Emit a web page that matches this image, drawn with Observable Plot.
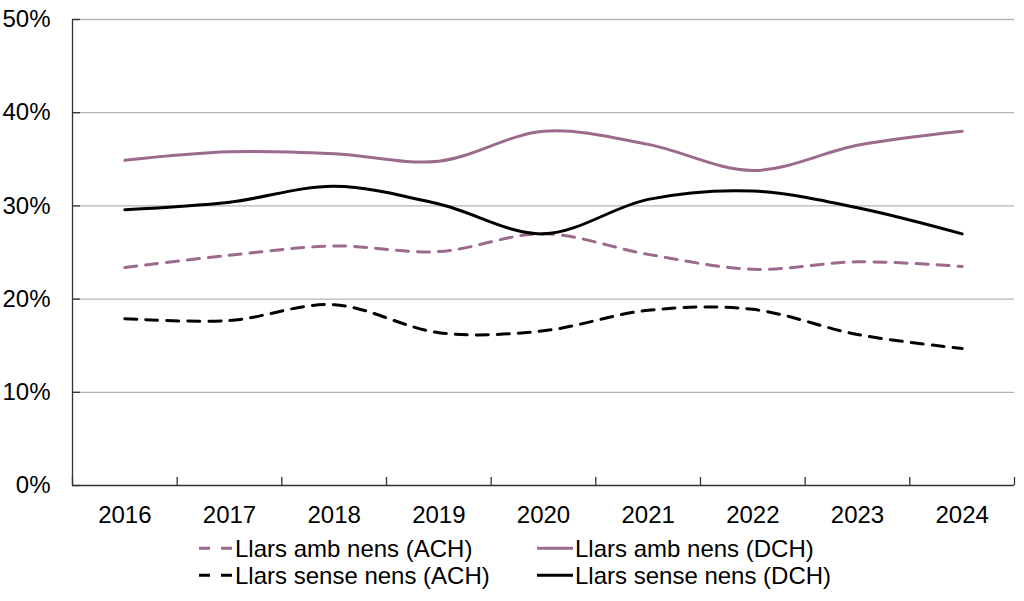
<!DOCTYPE html>
<html><head><meta charset="utf-8">
<script src="https://cdn.jsdelivr.net/npm/d3@7"></script>
<script src="https://cdn.jsdelivr.net/npm/@observablehq/plot@0.6"></script>
<style>
body{margin:0;background:#fff;font-family:"Liberation Sans",Arial,sans-serif;}
#wrap{position:relative;width:1024px;height:601px;overflow:hidden;}
#wrap svg.plot{position:absolute;left:0;top:0;}
.leg{position:absolute;display:flex;align-items:flex-start;font-size:24px;line-height:27px;color:#000;white-space:nowrap;}
.leg svg{display:block;margin-right:2px;}
</style></head><body><div id="wrap"></div>
<script>
// ---- data ----
const years = [2016, 2017, 2018, 2019, 2020, 2021, 2022, 2023, 2024];
const achAmb   = [23.4, 24.7, 25.7, 25.1, 27.0, 24.8, 23.2, 24.0, 23.5];
const dchAmb   = [34.9, 35.8, 35.6, 34.8, 38.0, 36.6, 33.8, 36.5, 38.0];
const achSense = [17.9, 17.7, 19.4, 16.4, 16.6, 18.8, 18.9, 16.2, 14.7];
const dchSense = [29.6, 30.4, 32.1, 30.2, 27.0, 30.7, 31.6, 29.8, 27.0];
const seriesNames = ["Llars amb nens (ACH)", "Llars amb nens (DCH)", "Llars sense nens (ACH)", "Llars sense nens (DCH)"];
const seriesValues = [achAmb, dchAmb, achSense, dchSense];
const yTicks = [0, 10, 20, 30, 40, 50];

// ---- styles ----
const purple = "#9c6a8c";
const seriesColors = [purple, purple, "#000000", "#000000"];
const seriesDash = ["12,9", null, "12,9", null];

const W = 1024, H = 535, mL = 72, mR = 10, mT = 19, mB = 50;
const plotW = W - mL - mR, plotH = H - mT - mB;
const bounds = [years[0] - 0.5, ...years.map(y => y + 0.5)];

const lineMarks = seriesValues.map((vals, s) =>
  Plot.line(years.map((y, i) => ({year: y, v: vals[i]})), {
    x: "year", y: "v", stroke: seriesColors[s], strokeWidth: 3,
    strokeDasharray: seriesDash[s] || undefined, curve: "cardinal"
  })
);

const chart = Plot.plot({
  width: W, height: H,
  marginLeft: mL, marginRight: mR, marginTop: mT, marginBottom: mB,
  style: {fontFamily: '"Liberation Sans", Arial, sans-serif', fontSize: "24px", color: "#000", background: "#fff"},
  x: {domain: [bounds[0], bounds[bounds.length - 1]], label: null},
  y: {domain: [0, 50], label: null},
  marks: [
    Plot.gridY(yTicks.slice(1), {stroke: "#b3b3b3", strokeOpacity: 1, strokeWidth: 1.3}),
    Plot.ruleY(yTicks, {y: d => d, insetRight: plotW - 8, stroke: "#333", strokeWidth: 1.3}),
    Plot.ruleX(bounds, {x: d => d, insetTop: plotH - 8, stroke: "#333", strokeWidth: 1.3}),
    Plot.ruleX([bounds[0]], {stroke: "#333", strokeWidth: 1.3}),
    Plot.ruleY([0], {stroke: "#333", strokeWidth: 1.3}),
    Plot.axisY(yTicks, {tickSize: 0, tickPadding: 22, tickFormat: d => d + "%", fontSize: 24, label: null}),
    Plot.axisX(years, {tickSize: 0, tickPadding: 20, tickFormat: d => String(d), fontSize: 24, label: null}),
    ...lineMarks
  ]
});
chart.classList.add("plot");
const wrap = document.getElementById("wrap");
wrap.appendChild(chart);

// ---- legend (HTML below the SVG) ----
const legPos = [[199, 534.8], [537, 534.8], [199, 561.8], [537, 561.8]];
seriesNames.forEach((name, s) => {
  const d = document.createElement("div");
  d.className = "leg";
  d.style.left = legPos[s][0] + "px";
  d.style.top = legPos[s][1] + "px";
  const sw = s % 2 === 0 ? 34 : 36;
  const dash = seriesDash[s] ? ` stroke-dasharray="11,11"` : "";
  d.innerHTML = `<svg width="${sw}" height="27"><line x1="0" x2="${sw}" y1="13.2" y2="13.2" stroke="${seriesColors[s]}" stroke-width="3"${dash}/></svg><span>${name}</span>`;
  wrap.appendChild(d);
});
</script>
</body></html>
